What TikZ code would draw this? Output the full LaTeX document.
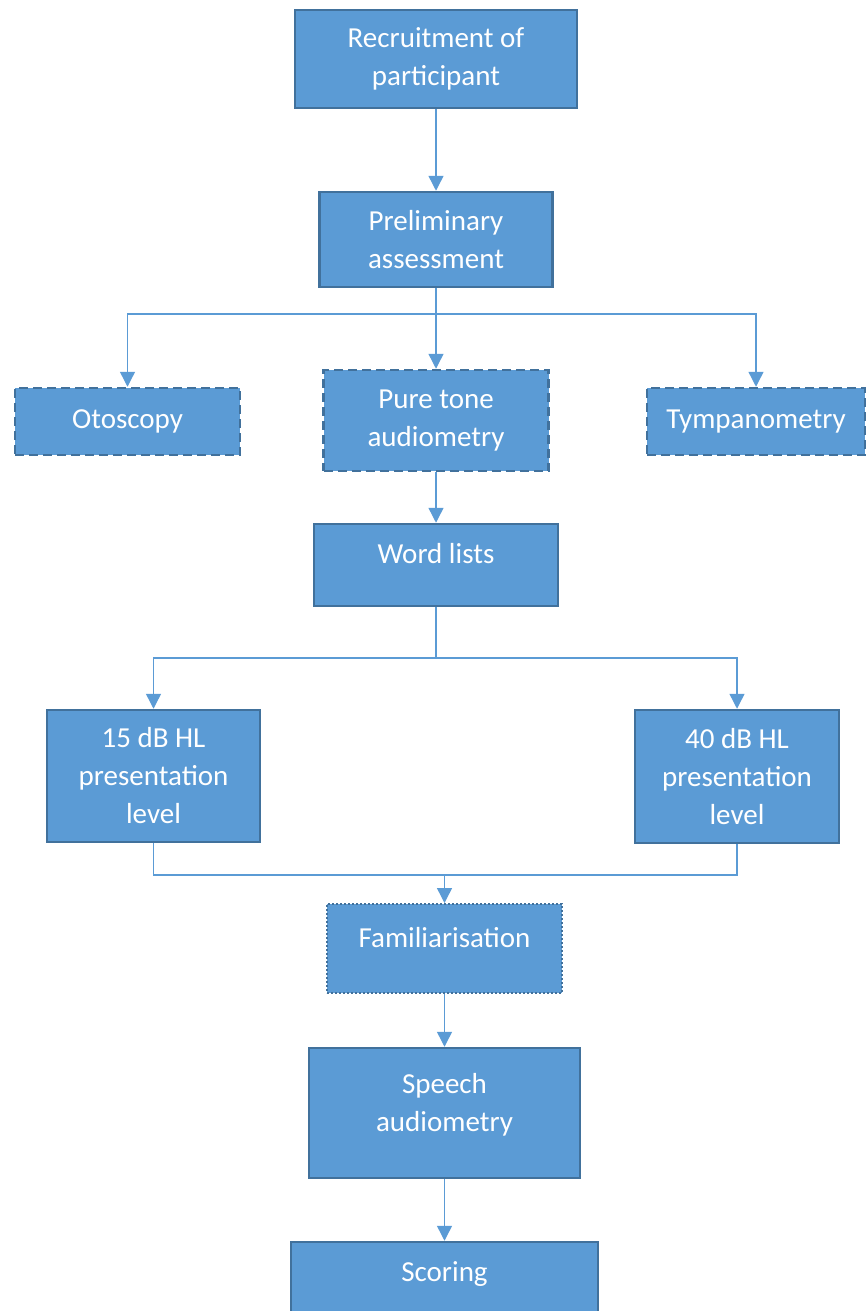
\documentclass[tikz,border=0pt]{standalone}
\usepackage{fontspec}
\setmainfont{Carlito}
\usetikzlibrary{arrows.meta}
\definecolor{boxfill}{HTML}{5B9BD5}
\definecolor{boxline}{HTML}{41719C}

\begin{document}
\begin{tikzpicture}[x=1pt,y=-1pt,
    box/.style={draw=boxline, line width=2.5pt, fill=boxfill, text=white,
      align=center, inner sep=0pt, font=\fontsize{29}{38}\selectfont},
    dashbox/.style={box, dash pattern=on 9pt off 5pt},
    dotbox/.style={box, line width=2pt, dash pattern=on 2pt off 2pt},
    link/.style={draw=boxfill, line width=1.4pt},
    arr/.style={link, -{Triangle[width=15pt,length=15pt]}}]
    \useasboundingbox (0,0) rectangle (866,1311);

    % boxes
    \node[box, minimum width=282, minimum height=98] (rec) at (436,59) {Recruitment of\\participant};
    \node[box, minimum width=233, minimum height=95] (pre) at (436,239.5) {Preliminary\\assessment};
    \node[dashbox, minimum width=225, minimum height=67] (oto) at (127.5,421.5) {Otoscopy};
    \node[dashbox, minimum width=225, minimum height=101] (pta) at (436,420.5) {Pure tone\\audiometry};
    \node[dashbox, minimum width=218, minimum height=67] (tym) at (756,421.5) {Tympanometry};
    \node[box, minimum width=244, minimum height=82, text depth=24pt] (word) at (436,565) {Word lists};
    \node[box, minimum width=213, minimum height=132] (lo) at (153.5,776) {15 dB HL\\presentation\\level};
    \node[box, minimum width=204, minimum height=133] (hi) at (737,776.5) {40 dB HL\\presentation\\level};
    \node[dotbox, minimum width=235, minimum height=89, text depth=22pt] (fam) at (444.5,948.5) {Familiarisation};
    \node[box, minimum width=271, minimum height=130, text depth=22pt] (speech) at (444.5,1113) {Speech\\audiometry};
    \node[box, minimum width=307, minimum height=100, text depth=40pt] (score) at (444.5,1292) {Scoring};

    % junctions
    \coordinate (bus1) at (436,314);
    \coordinate (bus2) at (436,658);
    \coordinate (bus3) at (444.5,875);

    % connectors
    \draw[arr] (rec) -- (pre);
    \draw[link] (pre) -- (bus1);
    \draw[arr] (bus1) -| (oto);
    \draw[arr] (bus1) -- (pta);
    \draw[arr] (bus1) -| (tym);
    \draw[arr] (pta) -- (word);
    \draw[link] (word) -- (bus2);
    \draw[arr] (bus2) -| (lo);
    \draw[arr] (bus2) -| (hi);
    \draw[link] (lo) |- (bus3);
    \draw[link] (hi) |- (bus3);
    \draw[arr] (bus3) -- (fam);
    \draw[arr] (fam) -- (speech);
    \draw[arr] (speech) -- (score);
\end{tikzpicture}
\end{document}
